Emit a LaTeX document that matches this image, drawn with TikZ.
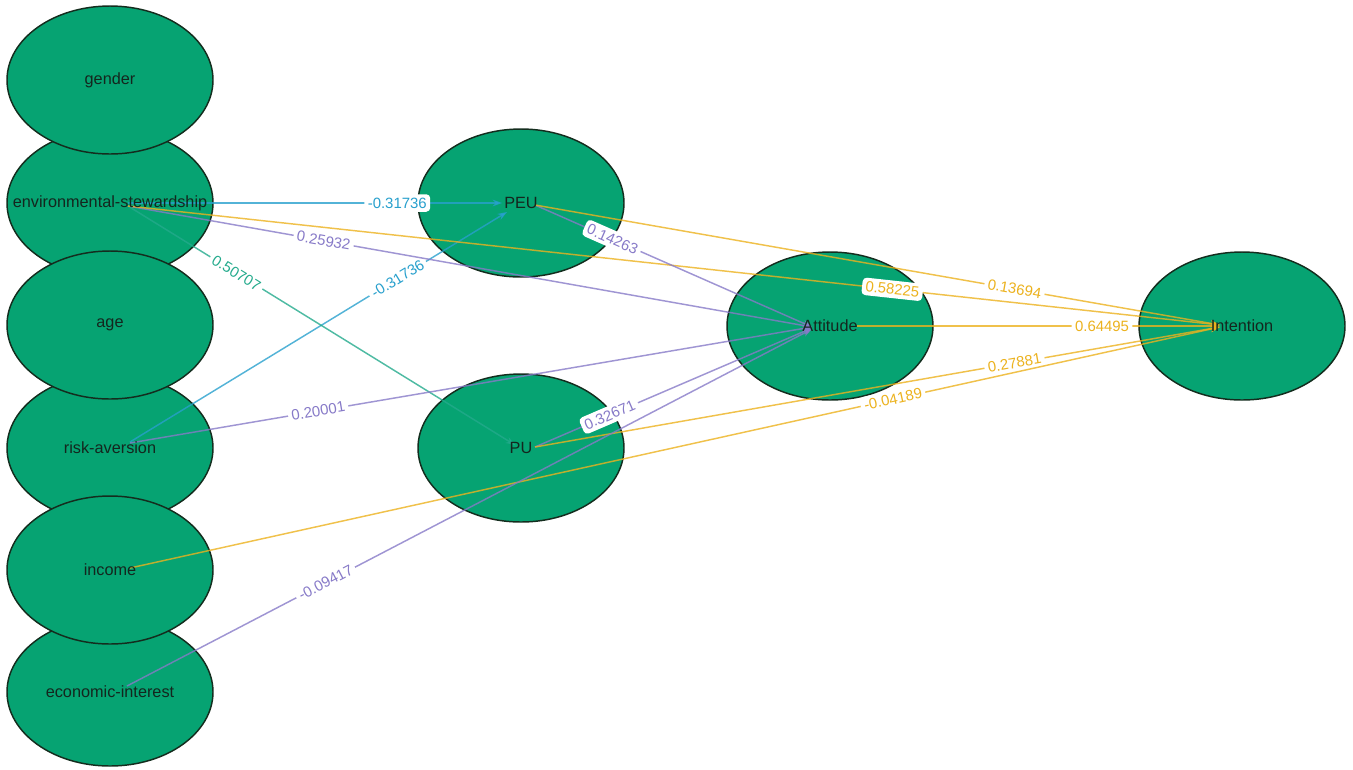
\documentclass[tikz,border=0pt]{standalone}
\usepackage{fontspec}
\setmainfont{Liberation Sans}
\usetikzlibrary{shapes.geometric,arrows.meta}
\definecolor{nodegreen}{RGB}{6,163,114}
\definecolor{nodeline}{RGB}{20,45,30}
\definecolor{ecyan}{RGB}{40,160,205}
\definecolor{eteal}{RGB}{35,170,140}
\definecolor{epurple}{RGB}{135,122,200}
\definecolor{eyellow}{RGB}{236,178,30}
\tikzset{
  latent/.style={ellipse, draw=nodeline, line width=1.1pt, fill=nodegreen,
    minimum width=154.5pt, minimum height=111pt, inner sep=0pt, outer sep=0pt},
  nlabel/.style={font=\fontsize{12.2}{14}\selectfont, text={rgb,255:red,20;green,38;blue,30}, inner sep=0pt},
  edge/.style={line width=1.1pt, draw opacity=0.8, -{Stealth[length=7pt,width=5pt]}},
  elab/.style={sloped, fill=white, rounded corners=3pt, inner sep=2.6pt,
    font=\fontsize{11.2}{13}\selectfont},
}
\begin{document}
\begin{tikzpicture}[x=0.75pt,y=-0.75pt]
\useasboundingbox (0,0) rectangle (1353,769);
% ellipses (lower layer first)
\node[latent] (env) at (110,203) {};
\node[latent] (risk) at (110,448) {};
\node[latent] (econ) at (110,692) {};
\node[latent] (gender) at (110,80) {};
\node[latent] (age) at (110,325) {};
\node[latent] (income) at (110,570) {};
\node[latent] (peu) at (521,203) {};
\node[latent] (pu) at (521,448) {};
\node[latent] (att) at (830,326) {};
\node[latent] (int) at (1242,326) {};
% edges
\draw[edge, ecyan] ([shift={(18,0)}]env.center) -- ([shift={(-19,0)}]peu.center)
  node[elab, pos=0.72, text=ecyan] (l1) {-0.31736};
\draw[edge, ecyan] ([shift={(20,-6)}]risk.center) -- ([shift={(-14,9)}]peu.center)
  node[elab, pos=0.71, text=ecyan] (l2) {-0.31736};
\draw[edge, epurple] ([shift={(18,3)}]env.center) -- ([shift={(-18,1)}]att.center)
  node[elab, pos=0.286, text=epurple] (l3) {0.25932};
\draw[edge, eteal] ([shift={(18,3)}]env.center) -- ([shift={(-6,-3)}]pu.center)
  node[elab, pos=0.28, text=eteal] (l4) {0.50707};
\draw[edge, eyellow] ([shift={(18,3)}]env.center) -- ([shift={(-22,-1)}]int.center)
  node[elab, pos=0.70, text=eyellow] (l5) {0.58225};
\draw[edge, epurple] ([shift={(14,2)}]peu.center) -- ([shift={(-18,1)}]att.center)
  node[elab, pos=0.28, text=epurple] (l6) {0.14263};
\draw[edge, eyellow] ([shift={(14,2)}]peu.center) -- ([shift={(-22,-1)}]int.center)
  node[elab, pos=0.70, text=eyellow] (l7) {0.13694};
\draw[edge, eyellow] ([shift={(27,0)}]att.center) -- ([shift={(-22,0)}]int.center)
  node[elab, pos=0.675, text=eyellow] (l8) {0.64495};
\draw[edge, epurple] ([shift={(20,-5)}]risk.center) -- ([shift={(-18,1)}]att.center)
  node[elab, pos=0.276, text=epurple] (l9) {0.20001};
\draw[edge, epurple] ([shift={(14,-1)}]pu.center) -- ([shift={(-18,2)}]att.center)
  node[elab, pos=0.27, text=epurple] (l10) {0.32671};
\draw[edge, eyellow] ([shift={(14,-1)}]pu.center) -- ([shift={(-22,1)}]int.center)
  node[elab, pos=0.70, text=eyellow] (l11) {0.27881};
\draw[edge, eyellow] ([shift={(20,-2)}]income.center) -- ([shift={(-22,1)}]int.center)
  node[elab, pos=0.70, text=eyellow] (l12) {-0.04189};
\draw[edge, epurple] ([shift={(17,-6)}]econ.center) -- ([shift={(-18,3)}]att.center)
  node[elab, pos=0.29, text=epurple] (l13) {-0.09417};
% node texts
\node[nlabel] (genderT) at (gender.center) {gender};
\node[nlabel] (envT) at (env.center) {environmental-stewardship};
\node[nlabel] (ageT) at (age.center) {age};
\node[nlabel] (riskT) at (risk.center) {risk-aversion};
\node[nlabel] (incomeT) at (income.center) {income};
\node[nlabel] (econT) at (econ.center) {economic-interest};
\node[nlabel] (peuT) at (peu.center) {PEU};
\node[nlabel] (puT) at (pu.center) {PU};
\node[nlabel] (attT) at (att.center) {Attitude};
\node[nlabel] (intT) at (int.center) {Intention};
\end{tikzpicture}
\end{document}
